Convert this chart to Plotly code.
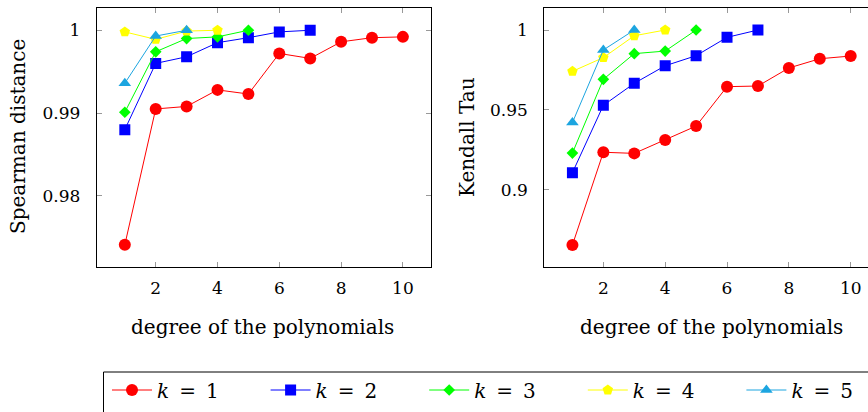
import plotly.graph_objects as go

degrees = list(range(1, 11))

# Spearman distance (left panel)
sp_k1 = [0.9741, 0.9905, 0.9908, 0.9928, 0.9923, 0.9972, 0.9966, 0.9986, 0.9991, 0.9992]
sp_k2 = [0.9880, 0.9960, 0.9968, 0.9985, 0.9991, 0.9998, 1.0000]
sp_k3 = [0.9901, 0.9974, 0.9990, 0.9992, 1.0000]
sp_k4 = [0.9998, 0.9989, 0.9999, 1.0000]
sp_k5 = [0.9936, 0.9993, 1.0000]

# Kendall Tau (right panel)
kt_k1 = [0.8653, 0.9234, 0.9227, 0.9311, 0.9398, 0.9645, 0.9649, 0.9762, 0.9820, 0.9837]
kt_k2 = [0.9106, 0.9528, 0.9666, 0.9776, 0.9839, 0.9954, 1.0000]
kt_k3 = [0.9229, 0.9691, 0.9852, 0.9868, 1.0000]
kt_k4 = [0.9741, 0.9827, 0.9964, 1.0000]
kt_k5 = [0.9420, 0.9875, 1.0000]

k_values = [1, 2, 3, 4, 5]
colors = ["#ff0000", "#0000ff", "#00ff00", "#ffff00", "#1ca5e0"]
symbols = ["circle", "square", "diamond", "pentagon", "triangle-up"]
msizes = [12, 11, 9, 11, 11]

left = [sp_k1, sp_k2, sp_k3, sp_k4, sp_k5]
right = [kt_k1, kt_k2, kt_k3, kt_k4, kt_k5]

SERIF = "DejaVu Serif, serif"
W, H = 868, 412
ESP = "\u2002"

fig = go.Figure()
for i, k in enumerate(k_values):
    lname = "legend" if i == 0 else f"legend{i + 1}"
    fig.add_trace(go.Scatter(
        x=degrees[:len(left[i])], y=left[i], mode="lines+markers",
        name=f"<i>k</i>{ESP}={ESP}{k}",
        line=dict(color=colors[i], width=1),
        marker=dict(symbol=symbols[i], size=msizes[i], color=colors[i], line=dict(width=0)),
        xaxis="x", yaxis="y", legendgroup=str(i), showlegend=True, legend=lname))
for i, k in enumerate(k_values):
    fig.add_trace(go.Scatter(
        x=degrees[:len(right[i])], y=right[i], mode="lines+markers",
        name=f"<i>k</i>{ESP}={ESP}{k}",
        line=dict(color=colors[i], width=1),
        marker=dict(symbol=symbols[i], size=msizes[i], color=colors[i], line=dict(width=0)),
        xaxis="x2", yaxis="y2", legendgroup=str(i), showlegend=False))

tickfont = dict(family=SERIF, size=17, color="black")
axis_common = dict(showgrid=False, zeroline=False, ticks="inside", ticklen=5,
                   tickcolor="#999999", tickwidth=1, showline=True, linecolor="black",
                   linewidth=1, tickfont=tickfont)

y_dom = [(H - 266.7) / H, (H - 8.3) / H]
layout = dict(
    width=W, height=H, margin=dict(l=0, r=0, t=0, b=0),
    paper_bgcolor="white", plot_bgcolor="white",
    xaxis=dict(domain=[96.7 / W, 430.7 / W], range=[0.09, 10.9], ticklabelstandoff=6,
               tickvals=[2, 4, 6, 8, 10], mirror="allticks", anchor="y", **axis_common),
    yaxis=dict(domain=y_dom, range=[0.97145, 1.00265], tickvals=[0.98, 0.99, 1.0],
               ticklabelstandoff=12,
               ticktext=["0.98", "0.99", "1"], mirror="allticks", anchor="x", **axis_common),
    xaxis2=dict(domain=[544.3 / W, 1.0], range=[0.09, 10.56], ticklabelstandoff=6,
                tickvals=[2, 4, 6, 8, 10], mirror="allticks", anchor="y2", **axis_common),
    yaxis2=dict(domain=y_dom, range=[0.8517, 1.0136], tickvals=[0.9, 0.95, 1.0],
                ticklabelstandoff=12,
                ticktext=["0.9", "0.95", "1"], mirror=False, anchor="x2", **axis_common),
    font=dict(family=SERIF, color="black"),
)
for i in range(5):
    lname = "legend" if i == 0 else f"legend{i + 1}"
    layout[lname] = dict(orientation="h", x=(107 + 158.6 * i) / W, y=(H - 390) / H,
                         xanchor="left", yanchor="middle", borderwidth=0,
                         bgcolor="rgba(0,0,0,0)", itemwidth=40,
                         font=dict(family=SERIF, size=20, color="black"))
fig.update_layout(**layout)

# legend frame (extends past the right and bottom edges as in the reference)
fig.add_shape(type="rect", xref="paper", yref="paper", x0=103.5 / W, x1=1.05,
              y0=-0.05, y1=(H - 372) / H, line=dict(color="black", width=1), layer="below")

titlefont = dict(family=SERIF, size=20, color="black")
fig.add_annotation(text="Spearman distance", x=18 / W, y=(H - 137) / H, xref="paper", yref="paper",
                   textangle=-90, showarrow=False, font=titlefont, xanchor="center", yanchor="middle")
fig.add_annotation(text="Kendall Tau", x=467 / W, y=(H - 137) / H, xref="paper", yref="paper",
                   textangle=-90, showarrow=False, font=titlefont, xanchor="center", yanchor="middle")
fig.add_annotation(text="degree of the polynomials", x=(128 + 396) / 2 / W, y=(H - 327) / H,
                   xref="paper", yref="paper", showarrow=False, font=titlefont,
                   xanchor="center", yanchor="middle")
fig.add_annotation(text="degree of the polynomials", x=(577 + 845) / 2 / W, y=(H - 327) / H,
                   xref="paper", yref="paper", showarrow=False, font=titlefont,
                   xanchor="center", yanchor="middle")

fig.write_html("out.html", config={"displayModeBar": False})

# remove the default page margin so the figure sits at the window origin
with open("out.html", "r", encoding="utf-8") as f:
    html = f.read()
html = html.replace("<head>", "<head><style>html,body{margin:0;padding:0;overflow:hidden;}</style>", 1)
with open("out.html", "w", encoding="utf-8") as f:
    f.write(html)
